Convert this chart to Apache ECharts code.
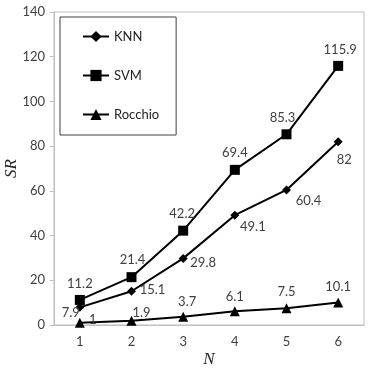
<!DOCTYPE html>
<html>
<head>
<meta charset="utf-8">
<script src="https://cdn.jsdelivr.net/npm/echarts@6/dist/echarts.min.js"></script>
<style>html,body{margin:0;padding:0;background:#fff}#c{width:382px;height:373px}</style>
</head>
<body>
<div id="c"></div>
<script>
const categories = ['1', '2', '3', '4', '5', '6'];
const knn = [7.9, 15.1, 29.8, 49.1, 60.4, 82];
const svm = [11.2, 21.4, 42.2, 69.4, 85.3, 115.9];
const rocchio = [1, 1.9, 3.7, 6.1, 7.5, 10.1];
const seriesNames = ['KNN', 'SVM', 'Rocchio'];

// label offsets (styling only)
const knnOff = [[-9, 5], [21, -1], [20, 4], [18, 12], [22, 11], [6, 18]];
const svmOff = [[0, -16], [1, -17], [-1, -17], [0, -17], [-4, -16], [2, -16]];
const rocOff = [[13, -3], [10, -8], [4, -15], [0, -15], [0, -16], [0, -16]];

const FONT = 'Lato';
function mk(vals, offs) {
  return vals.map((v, i) => ({
    value: v,
    label: { show: true, position: 'inside', offset: offs[i] }
  }));
}
const lbl = { color: '#404040', fontFamily: FONT, fontSize: 13 };
const chart = echarts.init(document.getElementById('c'), null, { renderer: 'canvas' });
chart.setOption({
  animation: false,
  backgroundColor: '#fff',
  grid: { left: 54, right: 18, top: 12, bottom: 48, show: true, borderColor: '#bfbfbf', borderWidth: 1,
          containLabel: false, outerBoundsMode: 'none' },
  legend: {
    left: 60, top: 17, orient: 'vertical',
    padding: [13, 17, 14, 22], itemGap: 26, itemWidth: 26, itemHeight: 14,
    borderColor: '#404040', borderWidth: 1,
    textStyle: { color: '#222', fontFamily: FONT, fontSize: 13 },
    data: seriesNames
  },
  xAxis: {
    type: 'category', data: categories,
    name: 'N', nameLocation: 'middle', nameGap: 26, nameMoveOverlap: false,
    nameTextStyle: { fontFamily: 'Liberation Serif', fontStyle: 'italic', fontSize: 17, color: '#222' },
    axisLine: { lineStyle: { color: '#bfbfbf' } },
    axisTick: { show: false },
    axisLabel: { color: '#404040', fontFamily: FONT, fontSize: 13, margin: 10 }
  },
  yAxis: {
    type: 'value', min: 0, max: 140, interval: 20,
    name: 'SR', nameLocation: 'middle', nameGap: 34, nameMoveOverlap: false,
    nameTextStyle: { fontFamily: 'Liberation Serif', fontStyle: 'italic', fontSize: 17, color: '#222' },
    axisLine: { show: true, lineStyle: { color: '#bfbfbf' } },
    axisTick: { show: true, length: 4, lineStyle: { color: '#bfbfbf' } },
    splitLine: { show: false },
    axisLabel: { color: '#404040', fontFamily: FONT, fontSize: 13, margin: 9 }
  },
  series: [
    { name: seriesNames[0], type: 'line', data: mk(knn, knnOff), symbol: 'diamond', symbolSize: 9,
      itemStyle: { color: '#000' }, lineStyle: { color: '#000', width: 2 }, label: lbl, z: 3 },
    { name: seriesNames[1], type: 'line', data: mk(svm, svmOff), symbol: 'rect', symbolSize: 10,
      itemStyle: { color: '#000' }, lineStyle: { color: '#000', width: 2 }, label: lbl, z: 3 },
    { name: seriesNames[2], type: 'line', data: mk(rocchio, rocOff), symbol: 'triangle', symbolSize: 10,
      itemStyle: { color: '#000' }, lineStyle: { color: '#000', width: 2 }, label: lbl, z: 3 }
  ]
});
</script>
</body>
</html>
